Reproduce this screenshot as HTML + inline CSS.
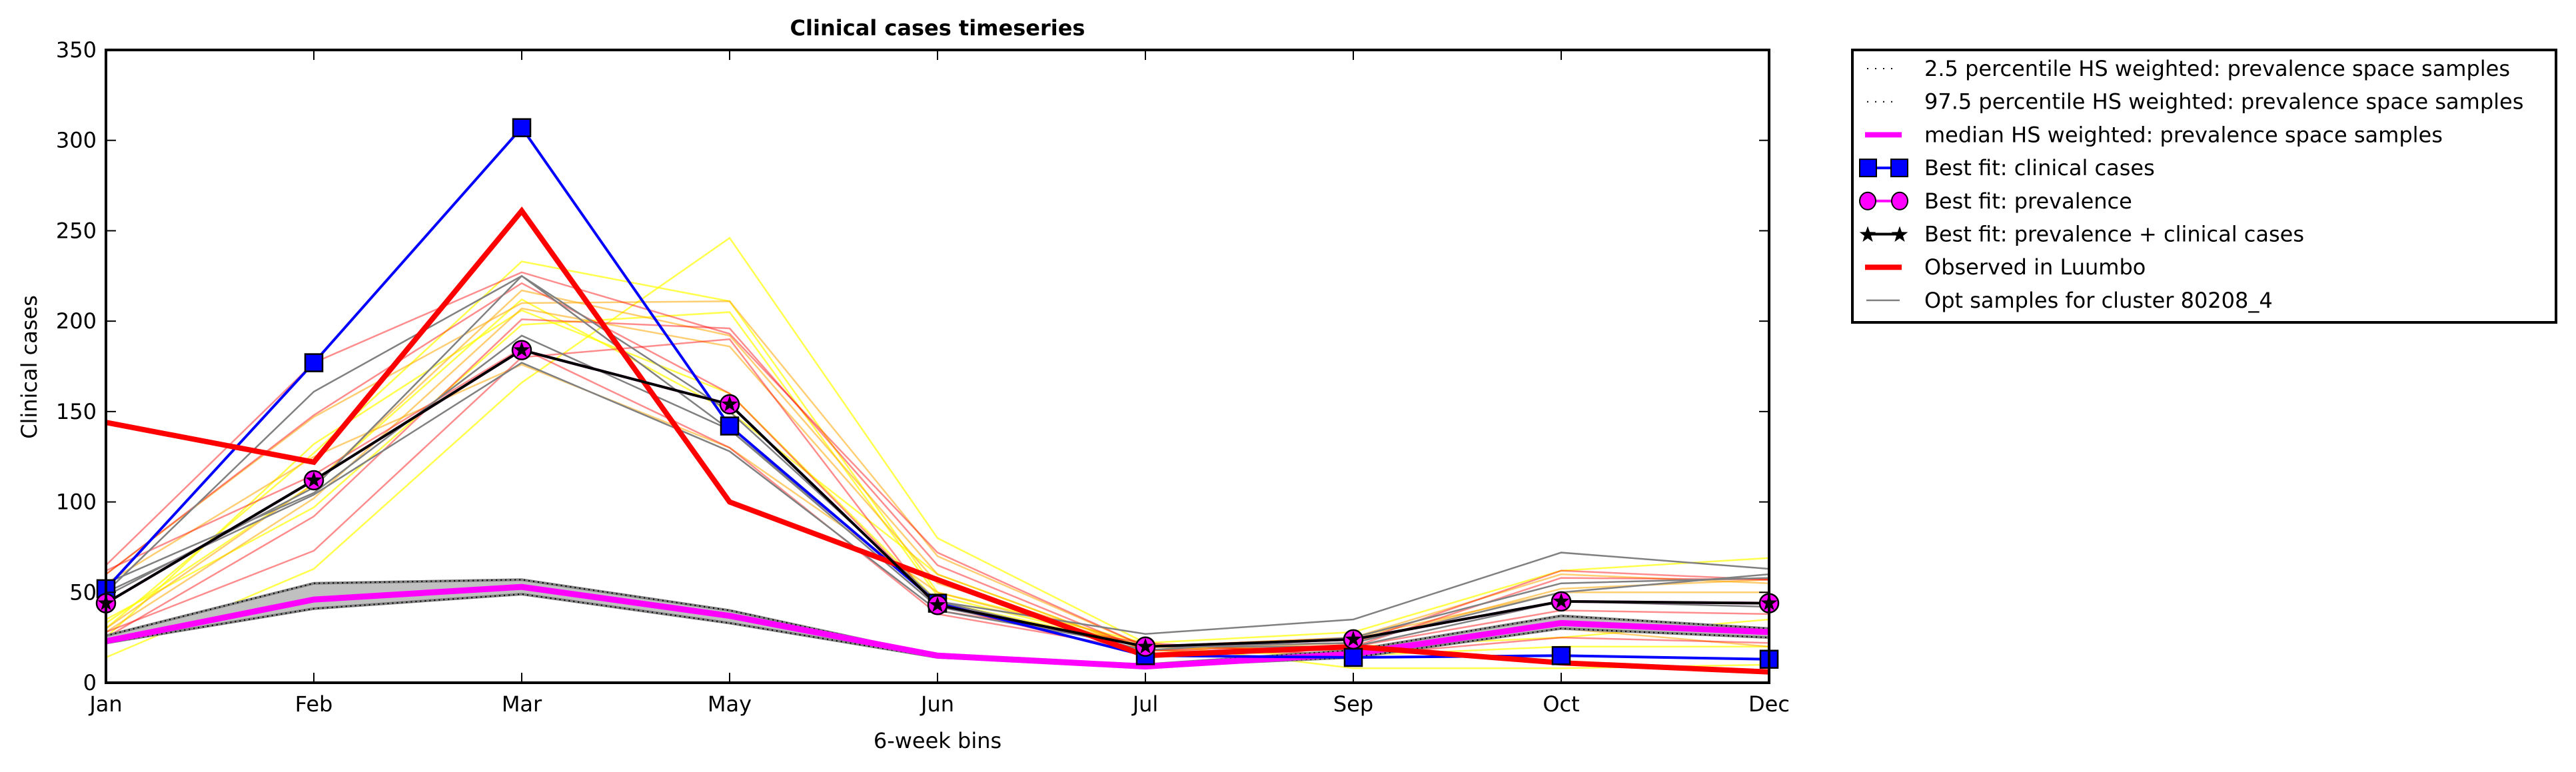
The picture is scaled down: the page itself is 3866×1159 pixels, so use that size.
<!DOCTYPE html>
<html><head><meta charset="utf-8"><style>
html,body{margin:0;padding:0;background:#fff;}
svg{display:block;font-family:"DejaVu Sans","Liberation Sans",sans-serif;}
</style></head><body>
<svg id="chart" width="3866" height="1159" viewBox="0 0 3866 1159" xmlns="http://www.w3.org/2000/svg">
<rect x="0" y="0" width="3866" height="1159" fill="#fff"/>
<text x="1407" y="53" font-size="32" font-weight="bold" text-anchor="middle">Clinical cases timeseries</text>
<text x="1407" y="1123" font-size="32" text-anchor="middle">6-week bins</text>
<text x="0" y="0" font-size="32" text-anchor="middle" transform="translate(55,551) rotate(-90)">Clinical cases</text>
<g id="plot"></g>
<g id="legend">
<rect x="2780" y="75" width="1056" height="409" fill="#fff" stroke="#000" stroke-width="4"/>
</g>
</svg>
<script>
const categories = ["Jan","Feb","Mar","May","Jun","Jul","Sep","Oct","Dec"];
const yTicks = [0,50,100,150,200,250,300,350];
const bestClinical = [52,177,307,142,44,15,14,15,13];
const bestPrev = [44,112,184,154,43,20,24,45,44];
const bestBoth = [44,112,184,154,43,20,24,45,44];
const observed = [144,122,261,100,57,15,20,11,6];
const median = [23,46,53,37,15,9,16,33,28];
const p025 = [22,41,49,33,14,9,14,30,25];
const p975 = [26,55,57,40,15,10,18,37,30];
const grayS1 = [50,161,225,150,45,27,35,72,63];
const grayS2 = [55,105,192,140,45,18,25,55,58];
const grayS3 = [50,104,177,128,40,20,20,45,42];
const grayS4 = [48,108,225,140,42,20,22,50,60];
const redS1 = [65,177,227,193,72,20,22,62,57];
const redS2 = [60,148,221,160,43,15,20,58,57];
const redS3 = [25,92,201,196,65,18,20,40,38];
const redS4 = [28,73,180,190,40,22,15,25,22];
const redS5 = [62,115,185,130,38,18,16,36,30];
const orgS1 = [60,147,210,211,70,20,25,60,55];
const orgS2 = [30,110,217,192,60,18,22,52,57];
const orgS3 = [28,102,207,186,55,20,25,50,50];
const orgS4 = [55,125,176,130,50,20,18,30,20];
const yelS1 = [14,63,166,246,80,22,8,8,10];
const yelS2 = [30,127,233,211,50,22,28,62,69];
const yelS3 = [35,97,198,205,48,20,20,25,35];
const yelS4 = [25,132,206,160,45,20,18,35,30];
const yelS5 = [33,110,212,150,60,18,15,20,20];

const NS="http://www.w3.org/2000/svg";
const L=159,R=2655,T=75,B=1025,YMAX=350;
function xs(i){return L+(R-L)*i/(categories.length-1);}
function ys(v){return B-(B-T)*v/YMAX;}
const plot=document.getElementById('plot');
function mk(tag,attrs,parent){const e=document.createElementNS(NS,tag);for(const k in attrs)e.setAttribute(k,attrs[k]);(parent||plot).appendChild(e);return e;}
function pts(arr){return arr.map((v,i)=>xs(i)+','+ys(v)).join(' ');}
function line(arr,color,w,name,op){const e=mk('polyline',{points:pts(arr),fill:'none',stroke:color,'stroke-width':w,'stroke-linejoin':'miter','stroke-opacity':op||1});


return e;}

const defs=mk('defs',{});
const cp=mk('clipPath',{id:'clip'},defs);mk('rect',{x:L,y:T,width:R-L,height:B-T},cp);
const g=mk('g',{'clip-path':'url(#clip)'});
function gl(arr,color,w,name,op){const e=line(arr,color,w,name,op);g.appendChild(e);return e;}

[[yelS1,'#ffff00',0.7],[yelS2,'#ffff00',0.7],[yelS3,'#ffff00',0.7],[yelS4,'#ffff00',0.7],[yelS5,'#ffff00',0.7],
 [orgS1,'#ffa500',0.55],[orgS2,'#ffa500',0.55],[orgS3,'#ffa500',0.55],[orgS4,'#ffa500',0.55],
 [redS1,'#ff0000',0.45],[redS2,'#ff0000',0.45],[redS3,'#ff0000',0.45],[redS4,'#ff0000',0.45],[redS5,'#ff0000',0.45],
 [grayS1,'#808080',1],[grayS2,'#808080',1],[grayS3,'#808080',1],[grayS4,'#808080',1]].forEach(s=>gl(s[0],s[1],2.5,'opt-sample-line',s[2]));

const band=mk('polygon',{points:pts(p975)+' '+p025.map((v,i)=>[i,v]).reverse().map(a=>xs(a[0])+','+ys(a[1])).join(' '),fill:'#c0c0c0',stroke:'#808080','stroke-width':4},g);


gl(p025,'#000',2,'percentile-2-5-line').setAttribute('stroke-dasharray','2,5');
gl(p975,'#000',2,'percentile-97-5-line').setAttribute('stroke-dasharray','2,5');
gl(median,'#ff00ff',9,'median-line');
gl(bestClinical,'#0000ff',4,'best-fit-clinical-line');
gl(bestPrev,'#ff00ff',4,'best-fit-prevalence-line');
gl(observed,'#ff0000',8,'observed-line');
gl(bestBoth,'#000',4,'best-fit-both-line');

function star(cx,cy,r){let p=[];for(let k=0;k<10;k++){const rr=k%2?r*0.4:r;const a=-Math.PI/2+k*Math.PI/5;p.push((cx+rr*Math.cos(a))+','+(cy+rr*Math.sin(a)));}return p.join(' ');}
bestClinical.forEach((v,i)=>{const e=mk('rect',{x:xs(i)-13,y:ys(v)-13,width:26,height:26,fill:'#0000ff',stroke:'#000','stroke-width':2.5});

});
bestPrev.forEach((v,i)=>{const e=mk('circle',{cx:xs(i),cy:ys(v),r:14,fill:'#ff00ff',stroke:'#000','stroke-width':2.5});

});
bestBoth.forEach((v,i)=>{const e=mk('polygon',{points:star(xs(i),ys(v),13),fill:'#000'});

});

mk('rect',{x:L,y:T,width:R-L,height:B-T,fill:'none',stroke:'#000','stroke-width':4});
yTicks.forEach(t=>{const y=ys(t);
mk('line',{x1:L,y1:y,x2:L+15,y2:y,stroke:'#000','stroke-width':2});
mk('line',{x1:R,y1:y,x2:R-15,y2:y,stroke:'#000','stroke-width':2});
const e=mk('text',{x:L-14,y:y+11,'font-size':32,'text-anchor':'end'});e.textContent=t;

});
categories.forEach((c,i)=>{const x=xs(i);
mk('line',{x1:x,y1:B,x2:x,y2:B-15,stroke:'#000','stroke-width':2});
mk('line',{x1:x,y1:T,x2:x,y2:T+15,stroke:'#000','stroke-width':2});
const e=mk('text',{x:x,y:1068,'font-size':32,'text-anchor':'middle'});e.textContent=c;

});

const lg=document.getElementById('legend');
const items=["2.5 percentile HS weighted: prevalence space samples","97.5 percentile HS weighted: prevalence space samples","median HS weighted: prevalence space samples","Best fit: clinical cases","Best fit: prevalence","Best fit: prevalence + clinical cases","Observed in Luumbo","Opt samples for cluster 80208_4"];
items.forEach((txt,k)=>{const y=103+k*49.7;
const e=mk('text',{x:2888,y:y+11,'font-size':32},lg);e.textContent=txt;


if(k<2){mk('line',{x1:2802,y1:y,x2:2845,y2:y,stroke:'#000','stroke-width':2,'stroke-dasharray':'2,10'},lg);}
else if(k==2){mk('line',{x1:2799,y1:y,x2:2854,y2:y,stroke:'#ff00ff','stroke-width':8},lg);}
else if(k==3){mk('line',{x1:2803,y1:y,x2:2851,y2:y,stroke:'#0000ff','stroke-width':4},lg);
 mk('rect',{x:2791,y:y-13,width:25,height:26,fill:'#0000ff',stroke:'#000','stroke-width':2},lg);
 mk('rect',{x:2838,y:y-13,width:25,height:26,fill:'#0000ff',stroke:'#000','stroke-width':2},lg);}
else if(k==4){mk('line',{x1:2803,y1:y,x2:2851,y2:y,stroke:'#ff00ff','stroke-width':4},lg);
 mk('ellipse',{cx:2803,cy:y,rx:12,ry:13,fill:'#ff00ff',stroke:'#000','stroke-width':2},lg);
 mk('ellipse',{cx:2851,cy:y,rx:12,ry:13,fill:'#ff00ff',stroke:'#000','stroke-width':2},lg);}
else if(k==5){mk('line',{x1:2803,y1:y,x2:2851,y2:y,stroke:'#000','stroke-width':4},lg);
 mk('polygon',{points:star(2803,y+1,13)},lg);mk('polygon',{points:star(2851,y+1,13)},lg);}
else if(k==6){mk('line',{x1:2799,y1:y,x2:2854,y2:y,stroke:'#ff0000','stroke-width':8},lg);}
else {mk('line',{x1:2801,y1:y,x2:2851,y2:y,stroke:'#808080','stroke-width':2.5},lg);}
});
</script>
</body></html>
